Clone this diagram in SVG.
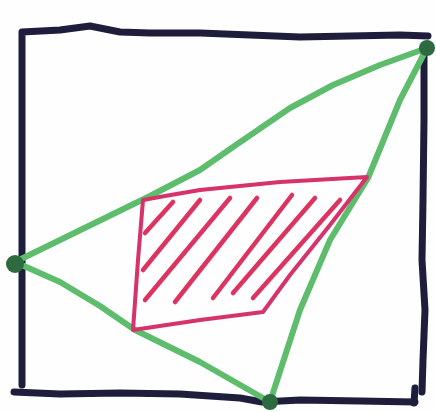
<svg xmlns="http://www.w3.org/2000/svg" width="436" height="412" viewBox="0 0 436 412">
<style>
.frame{fill:none;stroke:#1f1d3c;stroke-width:7;stroke-linecap:round;stroke-linejoin:round}
.tri{fill:none;stroke:#5dbd6c;stroke-width:6;stroke-linecap:round;stroke-linejoin:round}
.dot{fill:#2e6a40}
.quad{fill:none;stroke:#d6336b;stroke-width:4;stroke-linecap:round;stroke-linejoin:round}
.hatch{fill:none;stroke:#dd3360;stroke-width:4.5;stroke-linecap:round}
</style>
<rect width="436" height="412" fill="#fefefe"/>
<path class="frame" d="M22,385 L22,32 L60,30 L90,26 L120,32 L150,33 L200,33 L250,35 L300,37 L350,36 L400,35 L428,36"/>
<path class="frame" d="M424,48 L424,120 L423,200 L422,260 L425,310 L423,360 L422,392"/>
<path class="frame" d="M14,392 L60,394 L120,393 L180,394 L240,398 L262,402 L300,400 L360,401 L415,402"/>
<path class="frame" d="M414,403 L415,388"/>
<g id="triangle">
<path class="tri" d="M427,48 L380,65 L333,85 L290,108 L233,147 L200,170 L150,196 L15,262"/>
<path class="tri" d="M15,262 L60,282 L100,306 L135,330 L200,362 L270,402"/>
<path class="tri" d="M427,48 L400,100 L368,178 L330,240 L300,310 L270,402"/>
<circle class="dot" cx="427" cy="48" r="8"/>
<circle class="dot" cx="15" cy="264" r="9"/>
<circle class="dot" cx="270" cy="402" r="8"/>
</g>
<g id="region">
<path class="quad" d="M143,200 L165,196 L200,190 L280,182 L367,177 L330,225 L290,275 L263,312 L200,320 L133,330 L138,260 Z"/>
<path class="hatch" d="M145,233 L173,202 M143,270 L200,200 M145,300 L230,198 M175,302 L257,198 M213,298 L292,195 M233,293 L315,198 M253,298 L340,200"/>
</g>
</svg>
